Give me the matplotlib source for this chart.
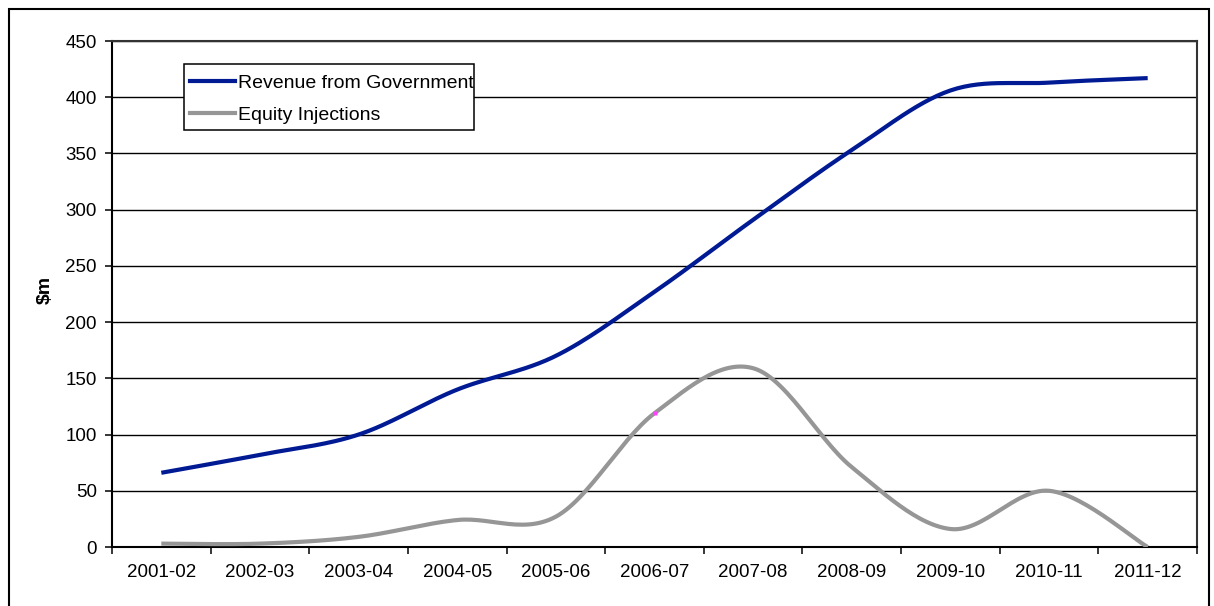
import numpy as np
import matplotlib
matplotlib.use("Agg")
import matplotlib.pyplot as plt
from matplotlib.patches import Rectangle
from matplotlib.lines import Line2D

plt.rcParams['font.family'] = ['Liberation Sans', 'DejaVu Sans']

years = ["2001-02", "2002-03", "2003-04", "2004-05", "2005-06", "2006-07",
         "2007-08", "2008-09", "2009-10", "2010-11", "2011-12"]
revenue = [66, 82, 100, 140, 170, 227, 291, 353, 406, 413, 417]
equity = [3, 3, 9, 24, 27, 119, 159, 71, 16, 50, 0]
series_names = ["Revenue from Government", "Equity Injections"]

BLUE = "#001a94"
GREY = "#969696"
LW = 3.0


def smooth(xs, ys, steps=30):
    """Catmull-Rom style Bezier smoothing through every point."""
    xs = np.asarray(xs, float)
    ys = np.asarray(ys, float)
    n = len(xs)
    px, py = [], []
    t = np.linspace(0, 1, steps)
    for i in range(n - 1):
        i0, i2, i3 = max(i - 1, 0), i + 1, min(i + 2, n - 1)
        p0 = np.array([xs[i], ys[i]])
        p3 = np.array([xs[i2], ys[i2]])
        c1 = p0 + (np.array([xs[i2], ys[i2]]) - np.array([xs[i0], ys[i0]])) / 6
        c2 = p3 - (np.array([xs[i3], ys[i3]]) - p0) / 6
        b = ((1 - t) ** 3)[:, None] * p0 + (3 * (1 - t) ** 2 * t)[:, None] * c1 \
            + (3 * (1 - t) * t ** 2)[:, None] * c2 + (t ** 3)[:, None] * p3
        if i > 0:
            b = b[1:]
        px.extend(b[:, 0])
        py.extend(b[:, 1])
    return np.array(px), np.array(py)


W, H = 1214, 606
fig = plt.figure(figsize=(W / 100, H / 100), dpi=100)
ax = fig.add_axes([112 / W, (H - 547) / H, (1197 - 112) / W, (547 - 41) / H])

x = np.arange(len(years))
rx, ry = smooth(x, revenue)
ex, ey = smooth(x, equity)
ax.plot(rx, ry, color=BLUE, lw=LW, solid_capstyle='butt', zorder=3)
ax.plot(ex, ey, color=GREY, lw=LW, solid_capstyle='butt', zorder=3)
ax.plot([x[5]], [equity[5]], 's', color="#ff44ff", ms=2.5, mec='none', zorder=4)

ax.set_xlim(-0.5, len(years) - 0.5)
ax.set_ylim(0, 450)
ax.set_yticks(np.arange(0, 451, 50))
ax.yaxis.grid(True, color='black', lw=1.0)
ax.set_axisbelow(True)

ax.set_xticks(np.arange(-0.5, len(years), 1.0))
ax.set_xticklabels([])
ax.set_xticks(x, minor=True)
ax.set_xticklabels(years, minor=True)
ax.tick_params(axis='x', which='major', direction='out', length=5, width=1.1, color='black')
ax.tick_params(axis='x', which='minor', length=0, pad=12, labelsize=13.5)
ax.tick_params(axis='y', direction='out', length=5, width=1.1, pad=6, labelsize=13.5)

for side in ('left', 'bottom'):
    ax.spines[side].set_linewidth(1.5)
    ax.spines[side].set_color('black')
for side in ('top', 'right'):
    ax.spines[side].set_linewidth(1.5)
    ax.spines[side].set_color('#333333')

fig.text(45 / W, 1 - 290 / H, "$m", rotation=90, ha='center', va='center',
         fontsize=14, fontweight='bold')

# legend box with fixed size; long names are clipped at its edge
box = Rectangle((184 / W, 1 - 130 / H), (474 - 184) / W, (130 - 64) / H,
                transform=fig.transFigure, facecolor='white', edgecolor='black',
                lw=1.1, zorder=10)
fig.add_artist(box)
for name, color, ypx in zip(series_names, [BLUE, GREY], [81, 113]):
    fig.add_artist(Line2D([190 / W, 235 / W], [1 - ypx / H] * 2,
                          transform=fig.transFigure, color=color, lw=LW,
                          zorder=11))
    t = fig.text(238 / W, 1 - ypx / H, name, ha='left', va='center_baseline',
                 fontsize=14, zorder=11)
    t.set_clip_path(box)

# outer chart border
fig.add_artist(Rectangle((9 / W, -0.01), (1209 - 9) / W, (H - 9) / H + 0.01,
                         transform=fig.transFigure, fill=False,
                         edgecolor='black', lw=1.5))

fig.savefig("out.png", dpi=100)
